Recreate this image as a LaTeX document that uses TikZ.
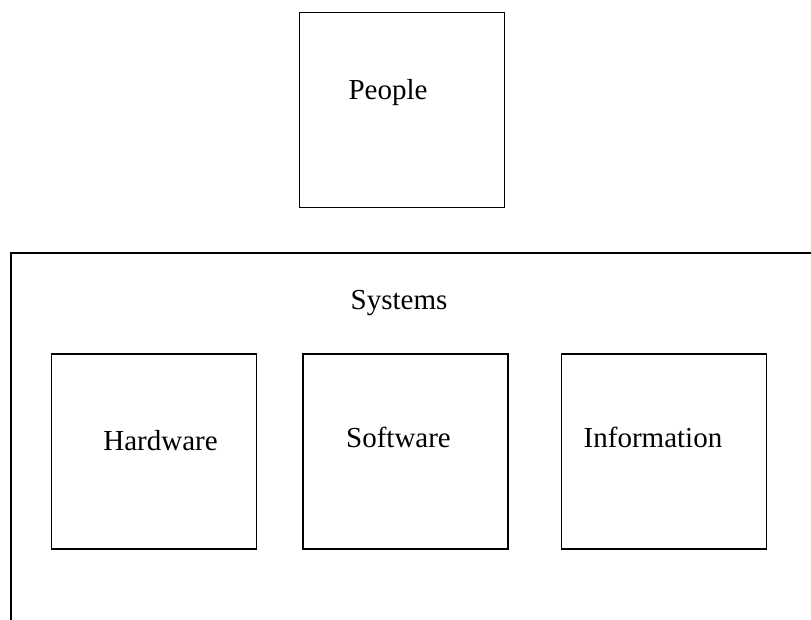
\documentclass[tikz,border=0pt]{standalone}
\usepackage{fontspec}
\setmainfont{Liberation Serif}
\begin{document}
\begin{tikzpicture}[x=1pt,y=-1pt,
  box/.style={draw=black,line width=1.5pt,inner sep=0pt,minimum width=205pt,minimum height=195pt},
  lbl/.style={anchor=base,inner sep=0pt,font=\fontsize{29}{34}\selectfont}]
\useasboundingbox (0,0) rectangle (811,620);
\node[box] (people) at (402,110) {};
\node[box] (hw) at (154,451.5) {};
\node[box] (sw) at (405.5,451.5) {};
\node[box] (info) at (664,451.5) {};
\coordinate (fb) at (11,622);
\coordinate (fc) at (11,253);
\coordinate (fr) at (813,253);
\draw[line width=1.5pt] (fb) -- (fc) -- (fr);
\node[lbl] (tpeople) at (388,100) {People};
\node[lbl] (tsys) at (399,309) {Systems};
\node[lbl] (thw) at (160.5,450) {Hardware};
\node[lbl] (tsw) at (398.5,447) {Software};
\node[lbl] (tinfo) at (653,447) {Information};
\end{tikzpicture}
\end{document}
